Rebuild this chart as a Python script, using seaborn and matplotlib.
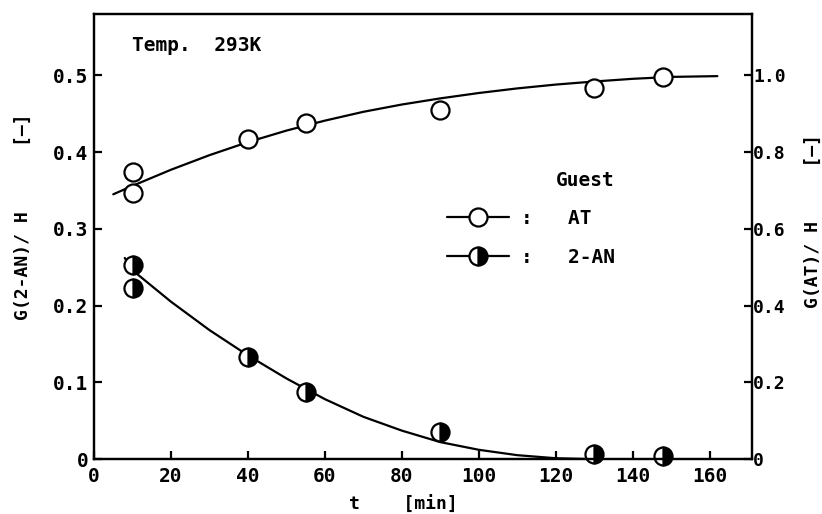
import matplotlib
matplotlib.use("Agg")
import matplotlib.pyplot as plt
import seaborn as sns
from matplotlib.lines import Line2D

# ---- data ----
# measured points
t_at = [10, 10, 40, 55, 90, 130, 148]
g_at = [0.747, 0.693, 0.833, 0.875, 0.909, 0.966, 0.997]      # right axis G(AT)/H
t_an = [10, 10, 40, 55, 90, 130, 148]
g_an = [0.253, 0.223, 0.133, 0.087, 0.035, 0.007, 0.004]      # left axis G(2-AN)/H

# fitted curves
t_at_curve = [5, 10, 20, 30, 40, 50, 60, 70, 80, 90, 100, 110, 120, 130, 140, 150, 162]
g_at_curve = [0.690, 0.712, 0.754, 0.792, 0.826, 0.856, 0.882, 0.905, 0.924, 0.940,
              0.954, 0.966, 0.976, 0.984, 0.991, 0.996, 0.998]
t_an_curve = [8, 10, 20, 30, 40, 50, 60, 70, 80, 90, 100, 110, 120, 128]
g_an_curve = [0.262, 0.246, 0.205, 0.168, 0.135, 0.105, 0.078, 0.055, 0.037, 0.022,
              0.012, 0.005, 0.001, 0.0]

x_ticks = [0, 20, 40, 60, 80, 100, 120, 140, 160]
left_ticks = [0, 0.1, 0.2, 0.3, 0.4, 0.5]
left_labels = ["0", "0.1", "0.2", "0.3", "0.4", "0.5"]
right_ticks = [0, 0.2, 0.4, 0.6, 0.8, 1.0]
right_labels = ["0", "0.2", "0.4", "0.6", "0.8", "1.0"]

sns.set_style("ticks")
plt.rcParams["font.family"] = ["DejaVu Sans Mono", "DejaVu Sans"]
plt.rcParams["font.weight"] = "bold"
plt.rcParams["text.color"] = "black"
plt.rcParams["axes.labelcolor"] = "black"

fig = plt.figure(figsize=(8.22, 5.14), dpi=100)
ax = fig.add_axes([0.1144, 0.107, 0.8004, 0.8658])
ax2 = ax.twinx()

ms = 13
# AT on right axis
sns.lineplot(x=t_at_curve, y=g_at_curve, ax=ax2, color="black", lw=1.6, sort=False, estimator=None)
sns.lineplot(x=t_at, y=g_at, ax=ax2, estimator=None, sort=False, linestyle="none",
             marker="o", markersize=ms, markerfacecolor="white", markeredgecolor="black",
             markeredgewidth=1.6, color="black")
# 2-AN on left axis
sns.lineplot(x=t_an_curve, y=g_an_curve, ax=ax, color="black", lw=1.6, sort=False, estimator=None)
sns.lineplot(x=t_an, y=g_an, ax=ax, estimator=None, sort=False, linestyle="none",
             marker="o", markersize=ms, fillstyle="right", markerfacecolor="black",
             markerfacecoloralt="white", markeredgecolor="black", markeredgewidth=1.6,
             color="black", clip_on=False)

ax.set_xlim(0, 171)
ax.set_ylim(0, 0.58)
ax2.set_ylim(0, 1.16)
ax.set_xticks(x_ticks)
ax.set_xticklabels([str(v) for v in x_ticks])
ax.set_yticks(left_ticks)
ax.set_yticklabels(left_labels)
ax2.set_yticks(right_ticks)
ax2.set_yticklabels(right_labels)

for a in (ax, ax2):
    for s in a.spines.values():
        s.set_linewidth(1.6)
        s.set_color("black")
    a.tick_params(direction="in", length=6, width=1.6, labelsize=14, colors="black", pad=4)
ax.tick_params(axis="x", pad=6)
ax2.tick_params(axis="y", labelsize=13, pad=1)

ax.set_xlabel("t    [min]", fontsize=13, fontweight="bold")
ax.xaxis.set_label_coords(0.47, -0.083)
ax.set_ylabel("G(2-AN)/ H      [—]", fontsize=13, fontweight="bold")
ax.yaxis.set_label_coords(-0.095, 0.545)
ax2.set_ylabel("G(AT)/ H     [—]", fontsize=13, fontweight="bold", rotation=90)
ax2.yaxis.set_label_coords(1.079, 0.535)

ax.text(0.057, 0.93, "Temp.  293K", transform=ax.transAxes, fontsize=14, fontweight="bold",
        va="center", ha="left")

handles = [
    Line2D([], [], color="black", lw=1.6, marker="o", markersize=ms, markerfacecolor="white",
           markeredgecolor="black", markeredgewidth=1.6),
    Line2D([], [], color="black", lw=1.6, marker="o", markersize=ms, fillstyle="right",
           markerfacecolor="black", markerfacecoloralt="white", markeredgecolor="black",
           markeredgewidth=1.6),
]
leg = ax.legend(handles, [":   AT", ":   2-AN"], title="Guest", frameon=False,
                loc="center left", bbox_to_anchor=(0.525, 0.54), fontsize=14,
                title_fontproperties={"size": 14, "weight": "bold"}, alignment="right",
                handlelength=3.2, handletextpad=0.6, labelspacing=1.0, borderaxespad=0)

fig.savefig("out.png", dpi=100)
